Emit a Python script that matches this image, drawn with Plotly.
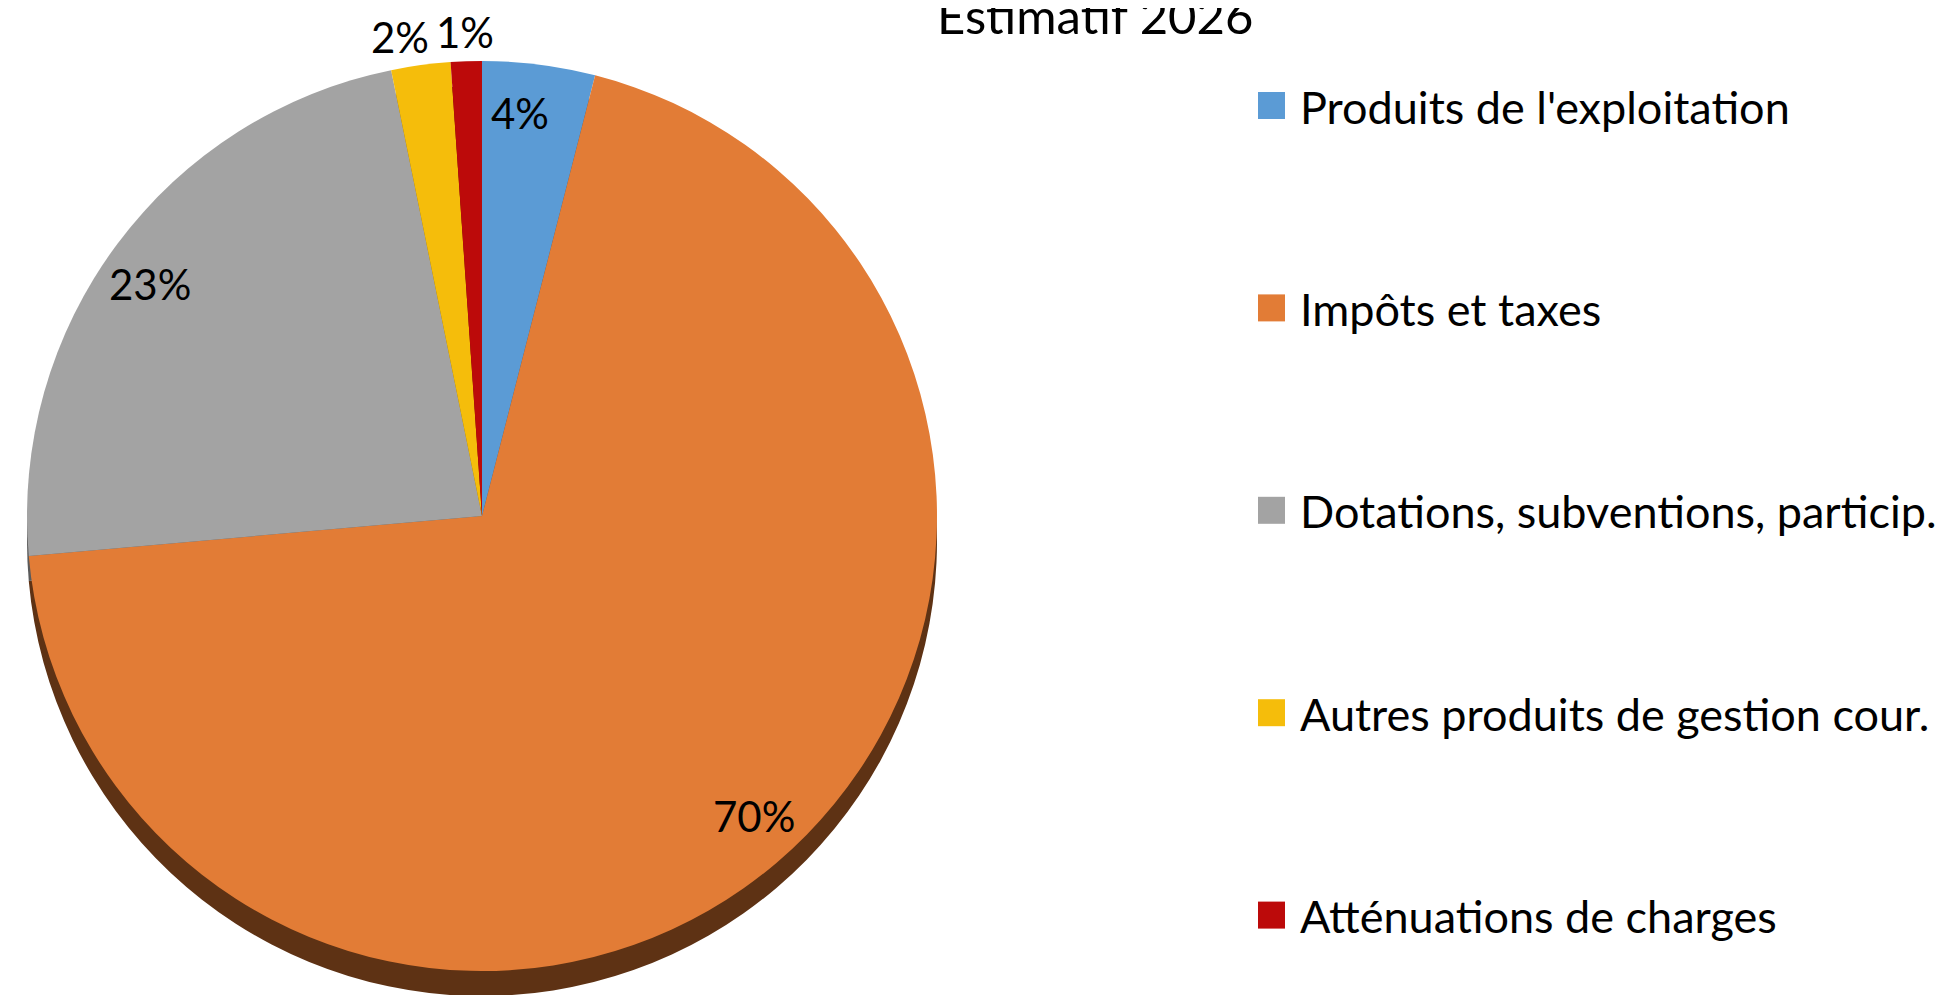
import math
import plotly.graph_objects as go

# ---- data ----
categories = [
    "Produits de l'exploitation",
    "Impôts et taxes",
    "Dotations, subventions, particip.",
    "Autres produits de gestion cour.",
    "Atténuations de charges",
]
values = [4.0, 69.6, 23.2, 2.1, 1.1]
title_text = "Estimatif 2026"

colors = ["#5B9BD5", "#E27C36", "#A3A3A3", "#F5BD0B", "#BC0A0A"]
side_colors = ["#2E5A85", "#5E3214", "#5A5A5A", "#8A6A05", "#6A0505"]

W, H = 1947, 995
OFF = 8  # page body margin
FONT = "Lato"

# pie geometry (pixels in page)
cx, cy, r = 482 - OFF, 516 - OFF, 455
depth = 25


def dom(cx_, cy_, r_):
    return dict(x=[(cx_ - r_) / W, (cx_ + r_) / W],
                y=[1 - (cy_ + r_) / H, 1 - (cy_ - r_) / H])


fig = go.Figure()
# 3D side (shadow) pie
fig.add_trace(go.Pie(
    labels=categories, values=values, sort=False, direction="clockwise",
    rotation=0, marker=dict(colors=side_colors, line=dict(width=0)),
    textinfo="none", hoverinfo="skip", showlegend=False,
    domain=dom(cx, cy + depth, r),
))
# top face
fig.add_trace(go.Pie(
    labels=categories, values=values, sort=False, direction="clockwise",
    rotation=0, marker=dict(colors=colors, line=dict(width=0)),
    textinfo="none", showlegend=False,
    domain=dom(cx, cy, r),
))

# data labels derived from values
total = sum(values)
cum = 0.0
label_pos = []
for v in values:
    frac = v / total
    outside = frac < 0.03
    mid = (cum + v / 2) / total * 2 * math.pi
    mid -= math.radians(1.0 if outside else 1.8)
    cum += v
    k = 1.065 if outside else 0.89
    px = cx + k * r * math.sin(mid)
    py = cy - k * r * math.cos(mid)
    label_pos.append([px, py, f"{round(frac * 100):d}%", outside])

# resolve overlap between outside labels (push apart horizontally)
outs = [p for p in label_pos if p[3]]
outs.sort(key=lambda p: p[0])
est_w = 65
for i in range(1, len(outs)):
    gap = outs[i][0] - outs[i - 1][0]
    if gap < est_w:
        shift = (est_w - gap) / 2
        outs[i - 1][0] -= shift
        outs[i][0] += shift

annotations = []
for px, py, txt, _ in label_pos:
    annotations.append(dict(
        x=px / W, y=1 - py / H, xref="paper", yref="paper",
        text=txt, showarrow=False, xanchor="center", yanchor="middle",
        font=dict(family=FONT, size=42, color="black"),
    ))

# title
annotations.append(dict(
    x=(1095 - OFF) / W, y=1 - (15 - OFF) / H, xref="paper", yref="paper",
    text=title_text, showarrow=False, xanchor="center", yanchor="middle",
    font=dict(family=FONT, size=49, color="black"),
))

# custom legend
shapes = []
leg_y0, leg_step = 109.5 - OFF - 4, 202.4
sq = 27
sq_x0 = 1258 - OFF
for i, (name, col) in enumerate(zip(categories, colors)):
    yy = leg_y0 + i * leg_step
    shapes.append(dict(
        type="rect", xref="paper", yref="paper",
        x0=sq_x0 / W, x1=(sq_x0 + sq) / W,
        y0=1 - (yy + sq / 2) / H, y1=1 - (yy - sq / 2) / H,
        fillcolor=col, line=dict(width=0),
    ))
    annotations.append(dict(
        x=(1298 - OFF) / W, y=1 - (yy + 1) / H, xref="paper", yref="paper",
        text=name, showarrow=False, xanchor="left", yanchor="middle",
        font=dict(family=FONT, size=45, color="black"),
    ))

fig.update_layout(
    width=W, height=H,
    margin=dict(l=0, r=0, t=0, b=0),
    paper_bgcolor="white", plot_bgcolor="white",
    showlegend=False,
    annotations=annotations, shapes=shapes,
    font=dict(family=FONT),
)

fig.write_html("out.html")
